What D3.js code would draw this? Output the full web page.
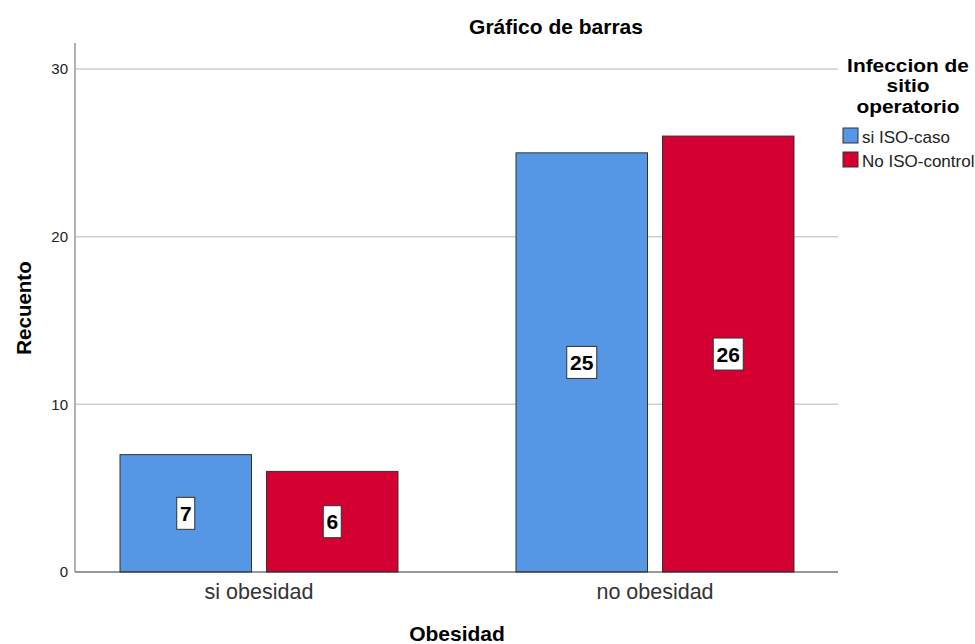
<!DOCTYPE html>
<html><head><meta charset="utf-8">
<script src="https://cdn.jsdelivr.net/npm/d3@7"></script>
<style>body{margin:0;background:#fff}text{font-family:"Liberation Sans",Arial,sans-serif}</style>
</head><body><svg id="c" width="975" height="644"></svg>
<script>
const categories = ["si obesidad", "no obesidad"];
const series = ["si ISO-caso", "No ISO-control"];
const siISO = [7, 25];
const noISO = [6, 26];
const yTicks = [0, 10, 20, 30];
const colors = ["#5596e5", "#d50032"];

const svg = d3.select("#c");
const y = d3.scaleLinear().domain([0, 30]).range([572, 69]);
const x0 = d3.scaleBand().domain(categories).range([61, 853]).paddingInner(0.298).paddingOuter(0.149);
const x1 = d3.scaleBand().domain(series).range([0, x0.bandwidth()]).paddingInner(0.1024);
const plotL = 75, plotR = 838;

// gridlines
svg.append("g").selectAll("line").data(yTicks.filter(d => d > 0)).join("line")
  .attr("x1", plotL).attr("x2", plotR).attr("y1", d => y(d)).attr("y2", d => y(d))
  .attr("stroke", "#cfcfcf").attr("stroke-width", 1.5);

// y axis
const ya = svg.append("g").attr("transform", `translate(${plotL},0)`)
  .call(d3.axisLeft(y).tickValues(yTicks).tickSize(0).tickPadding(7));
ya.select(".domain").remove();
ya.selectAll("text").attr("font-size", 15).attr("fill", "#222").attr("font-family", "Liberation Sans, Arial, sans-serif");
svg.append("line").attr("x1", plotL).attr("x2", plotL).attr("y1", 43).attr("y2", 572).attr("stroke", "#999").attr("stroke-width", 1.5);

// bars
const data = categories.map((c, i) => ({c, vals: [siISO[i], noISO[i]]}));
const groups = svg.append("g").selectAll("g").data(data).join("g")
  .attr("transform", d => `translate(${x0(d.c)},0)`);
groups.selectAll("rect").data(d => d.vals.map((v, j) => ({s: series[j], v, j}))).join("rect")
  .attr("x", d => x1(d.s)).attr("width", x1.bandwidth())
  .attr("y", d => y(d.v)).attr("height", d => y(0) - y(d.v))
  .attr("fill", d => colors[d.j]).attr("stroke", "#333").attr("stroke-width", 1);

// labels
const lab = groups.selectAll("g.lab").data(d => d.vals.map((v, j) => ({s: series[j], v, j}))).join("g")
  .attr("class", "lab")
  .attr("transform", d => `translate(${x1(d.s) + x1.bandwidth() / 2},${y(d.v / 2)})`);
lab.append("rect")
  .attr("x", d => String(d.v).length > 1 ? -15 : -9).attr("width", d => String(d.v).length > 1 ? 30 : 18)
  .attr("y", -16).attr("height", 32).attr("fill", "#fff").attr("stroke", "#333").attr("stroke-width", 1);
lab.append("text").attr("text-anchor", "middle").attr("dy", "0.36em")
  .attr("font-size", 21).attr("font-weight", "bold").attr("fill", "#000").text(d => d.v);

// x axis line
svg.append("line").attr("x1", plotL).attr("x2", plotR).attr("y1", 572).attr("y2", 572).attr("stroke", "#333").attr("stroke-width", 1.2);
const xa = svg.append("g").attr("transform", "translate(0,572)")
  .call(d3.axisBottom(x0).tickSize(0).tickPadding(12));
xa.select(".domain").remove();
xa.selectAll("text").attr("font-size", 21.5).attr("fill", "#333").attr("font-family", "Liberation Sans, Arial, sans-serif");

// titles
svg.append("text").attr("x", 556).attr("y", 34).attr("text-anchor", "middle")
  .attr("font-size", 21).attr("font-weight", "bold").text("Gráfico de barras");
svg.append("text").attr("x", 457).attr("y", 641).attr("text-anchor", "middle")
  .attr("font-size", 21).attr("font-weight", "bold").text("Obesidad");
svg.append("text").attr("transform", "translate(31,308) rotate(-90)").attr("text-anchor", "middle")
  .attr("font-size", 20.5).attr("font-weight", "bold").text("Recuento");

// legend
const ltg = svg.append("g").attr("transform", "translate(908,0) scale(1.16,1)");
["Infeccion de", "sitio", "operatorio"].forEach((t, i) =>
  ltg.append("text").attr("x", 0).attr("y", 72 + i * 20.5).attr("text-anchor", "middle")
    .attr("font-size", 18).attr("font-weight", "bold").text(t));
const lg = svg.append("g").selectAll("g").data(series).join("g")
  .attr("transform", (d, i) => `translate(843,${128 + i * 24})`);
lg.append("rect").attr("width", 15).attr("height", 15).attr("fill", (d, i) => colors[i]).attr("stroke", "#333").attr("stroke-width", 1);
lg.append("text").attr("x", 19).attr("y", 15).attr("font-size", 17).attr("fill", "#222").text(d => d);
</script></body></html>
